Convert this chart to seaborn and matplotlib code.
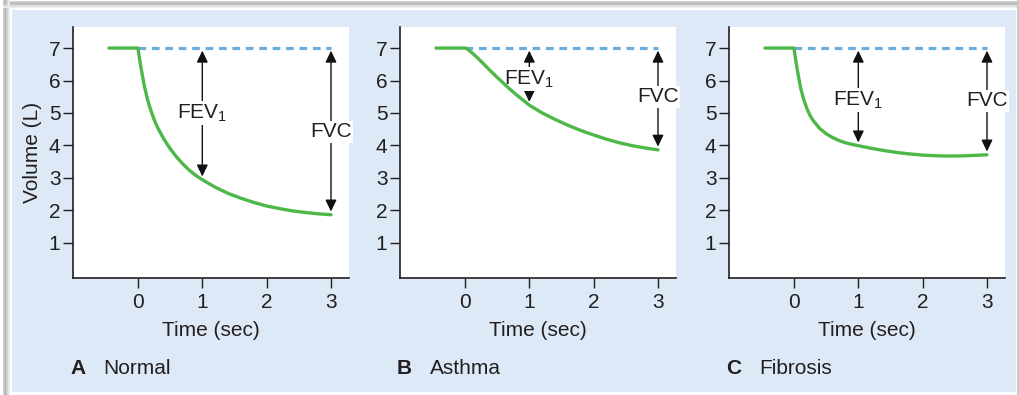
import matplotlib
matplotlib.use("Agg")
import matplotlib.pyplot as plt
from matplotlib.patches import Rectangle, FancyArrowPatch
import numpy as np
import pandas as pd
import seaborn as sns

# ---------------- data ----------------
time_s = [-0.45, 0, 0.02, 0.05, 0.1, 0.15, 0.2, 0.25, 0.3, 0.4, 0.5, 0.6, 0.7,
          0.8, 0.9, 1.0, 1.2, 1.4, 1.6, 1.8, 2.0, 2.2, 2.4, 2.6, 2.8, 3.0]
normal_vol = [7, 7, 6.72, 6.36, 5.82, 5.40, 5.08, 4.80, 4.57, 4.20, 3.90, 3.64, 3.42,
              3.23, 3.07, 2.94, 2.71, 2.52, 2.37, 2.24, 2.13, 2.05, 1.98, 1.93, 1.89, 1.86]
asthma_vol = [7, 7, 6.99, 6.95, 6.87, 6.78, 6.69, 6.59, 6.49, 6.29, 6.10, 5.91, 5.73,
              5.56, 5.40, 5.24, 5.00, 4.80, 4.62, 4.46, 4.32, 4.19, 4.08, 3.99, 3.92, 3.86]
fibrosis_vol = [7, 7, 6.72, 6.35, 5.80, 5.42, 5.14, 4.92, 4.76, 4.52, 4.36, 4.24, 4.15,
                4.08, 4.03, 3.99, 3.91, 3.84, 3.78, 3.735, 3.70, 3.68, 3.67, 3.675, 3.69, 3.71]
baseline_t = [0, 3]
baseline_v = [7, 7]
panel_letters = ["A", "B", "C"]
panel_names = ["Normal", "Asthma", "Fibrosis"]
x_ticks = [0, 1, 2, 3]
y_ticks = [1, 2, 3, 4, 5, 6, 7]

# label heights (layout) for FEV1 / FVC text
fev_label_y = [5.0, 6.05, 5.4]
fvc_label_y = [4.42, 5.5, 5.38]

sns.set_style("ticks")
plt.rcParams["font.family"] = ["Liberation Sans", "DejaVu Sans"]
plt.rcParams["mathtext.default"] = "regular"

TXT = "#231F20"
GREEN = "#4DB848"
BLUE = "#6AAEE0"
BG = "#DDE9F6"
FS = 15

W, H = 1020, 395
fig = plt.figure(figsize=(W / 100, H / 100), dpi=100, facecolor="white")

def fx(px):
    return px / W

def fy(py):
    return 1 - py / H

def add_rect(x0, y0, x1, y1, color):
    fig.patches.append(Rectangle((fx(x0), fy(y1)), fx(x1) - fx(x0), fy(y0) - fy(y1),
                                 transform=fig.transFigure, facecolor=color,
                                 edgecolor="none", zorder=-5))

# frame decorations
add_rect(12, 10, 1016, 392, BG)
for i, c in enumerate(["#d0d0d0", "#c4c4c4", "#b8b8b8", "#c8c8c8", "#d8d8d8", "#e4e4e4", "#eeeeee"]):
    add_rect(3 + i, 0, 4 + i, 395, c)
    add_rect(3, 1 + i, 1020, 2 + i, c)
add_rect(1017, 0, 1020, 395, "#c8c8c8")

series = [normal_vol, asthma_vol, fibrosis_vol]
lefts = [73, 400, 729]
ax_w, ax_top, ax_bot = 276, 27, 278

for k in range(3):
    ax = fig.add_axes([fx(lefts[k]), fy(ax_bot), fx(ax_w), fy(ax_top) - fy(ax_bot)])
    ax.set_facecolor("white")
    df = pd.DataFrame({"t": time_s, "v": series[k]})
    bl = pd.DataFrame({"t": baseline_t, "v": baseline_v})
    sns.lineplot(data=bl, x="t", y="v", ax=ax, color=BLUE, lw=2.3, zorder=2)
    ax.lines[-1].set_dashes((2.4, 1.8))
    sns.lineplot(data=df, x="t", y="v", ax=ax, color=GREEN, lw=2.4, zorder=4)
    ax.lines[-1].set_solid_joinstyle("round")
    ax.set_xlim(-1.01, 3.28)
    ax.set_ylim(-0.09, 7.65)
    ax.set_xticks(x_ticks)
    ax.set_yticks(y_ticks)
    ax.set_xticklabels([str(v) for v in x_ticks], fontsize=FS, color=TXT)
    ax.set_yticklabels([str(v) for v in y_ticks], fontsize=FS, color=TXT)
    ax.tick_params(axis="both", length=7, width=1, color=TXT, direction="out")
    ax.tick_params(axis="x", pad=4)
    ax.tick_params(axis="y", pad=2)
    for s in ["top", "right"]:
        ax.spines[s].set_visible(False)
    for s in ["left", "bottom"]:
        ax.spines[s].set_color(TXT)
        ax.spines[s].set_linewidth(1.2)
    ax.set_xlabel("Time (sec)", fontsize=FS, color=TXT, labelpad=6)
    if k == 0:
        ax.set_ylabel("Volume (L)", fontsize=FS, color=TXT, labelpad=5)
    else:
        ax.set_ylabel("")

    # arrows
    v1 = series[k][time_s.index(1.0)]
    v3 = series[k][time_s.index(3.0)]
    for xa, vb, ly, lab in [(1, v1, fev_label_y[k], "FEV$_1$"), (3, v3, fvc_label_y[k], "FVC")]:
        arr = FancyArrowPatch((xa, 6.92), (xa, vb + 0.1),
                              arrowstyle="<|-|>,head_length=0.5,head_width=0.24",
                              mutation_scale=14, color="#111111", lw=1.0,
                              shrinkA=0, shrinkB=0, zorder=2.5)
        ax.add_patch(arr)
        ax.text(xa, ly, lab, ha="center", va="center", fontsize=FS, color=TXT, zorder=3,
                bbox=dict(facecolor="white", edgecolor="none", pad=1.0))

    # panel label
    fig.text(fx(lefts[k] - 3), fy(368), panel_letters[k], fontsize=FS, fontweight="bold",
             color=TXT, ha="left", va="center")
    fig.text(fx(lefts[k] + 30), fy(368), panel_names[k], fontsize=FS,
             color=TXT, ha="left", va="center")

fig.savefig("out.png", dpi=100, facecolor="white")
